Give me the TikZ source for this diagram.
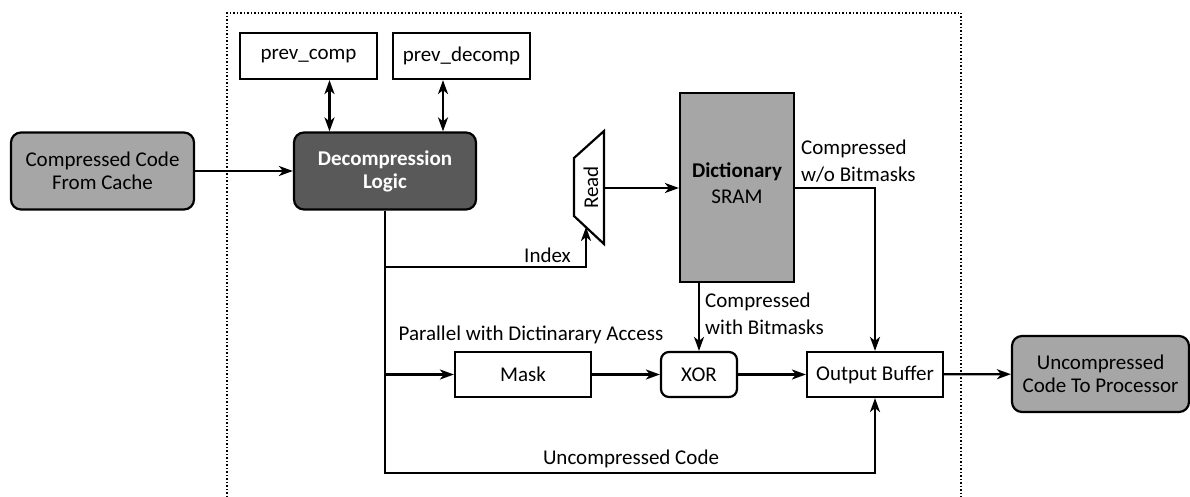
\documentclass[tikz,border=0pt]{standalone}
\usepackage{fontspec}
\setmainfont{Carlito}
\usetikzlibrary{arrows.meta,calc}
\definecolor{lgray}{HTML}{A6A6A6}
\definecolor{dgray}{HTML}{595959}
\begin{document}
\begin{tikzpicture}[x=1pt,y=-1pt,
  every node/.style={font=\fontsize{21}{23}\selectfont, inner sep=0pt},
  box/.style={draw, line width=2.2pt, align=center},
  gbox/.style={box, fill=lgray, rounded corners=10pt},
  lbl/.style={font=\fontsize{21}{27}\selectfont, align=left},
  tip/.tip={Stealth[length=14pt,width=10pt,inset=4pt]},
  arr/.style={line width=2.2pt, -tip},
  dbl/.style={line width=2.2pt, tip-tip},
  wire/.style={line width=2.2pt}
]
\useasboundingbox (0,0) rectangle (1190,497);
% frame
\draw[dotted, line width=1.5pt] (227,497) -- (227,13) -- (961,13) -- (961,497);

\node[gbox, minimum width=183pt, minimum height=77pt] (cc) at (102.5,171) {Compressed Code\\From Cache};
\node[box, fill=dgray, rounded corners=10pt, text=white, font=\fontsize{21}{23}\selectfont\bfseries, minimum width=182pt, minimum height=77pt] (dl) at (385,171) {Decompression\\Logic};
\node[box, minimum width=137pt, minimum height=46pt] (pc) at (308.5,56) {prev\_comp};
\node[box, minimum width=137pt, minimum height=46pt] (pd) at (461.5,56) {prev\_decomp};
\node[box, fill=lgray, minimum width=114pt, minimum height=189pt] (dict) at (737,187.5) {};
\node[align=center, font=\fontsize{21}{26}\selectfont] (dicttxt) at (737,183) {\textbf{Dictionary}\\SRAM};
\node[box, minimum width=136pt, minimum height=45pt] (mask) at (523,374.5) {Mask};
\node[box, rounded corners=8pt, minimum width=76pt, minimum height=45pt] (xor) at (699,374.5) {XOR};
\node[box, minimum width=136pt, minimum height=45pt] (ob) at (875,374.5) {Output Buffer};
\node[gbox, minimum width=177pt, minimum height=76pt] (uc) at (1100.5,374) {Uncompressed\\Code To Processor};

% read trapezoid
\coordinate (rtl) at (574,158);
\coordinate (rbl) at (574,216);
\coordinate (rtr) at (604,131);
\coordinate (rbr) at (604,244);
\draw[line width=2.2pt, fill=white] (rtl) -- (rtr) -- (rbr) -- (rbl) -- cycle;
\node[rotate=90] (read) at (591,187.5) {Read};
\coordinate (readout) at (604,188);
\coordinate (readin) at (586,227);

% connectors
\draw[arr] (cc) -- (dl);
\draw[dbl] ([xshift=21pt]pc.south) -- ([xshift=-55.5pt]dl.north);
\draw[dbl] ([xshift=-18.5pt]pd.south) -- ([xshift=58pt]dl.north);
\coordinate (bot) at (385,473);
\coordinate (idx) at (385,267);
\coordinate (msk) at (385,374.5);
\draw[arr] (dl.south) -- (bot) -| (ob.south);
\draw[arr] (idx) -| (readin);
\draw[arr] (msk) -- (mask.west);
\draw[arr] (mask) -- (xor);
\draw[arr] (xor) -- (ob);
\draw[arr] (ob) -- (uc);
\draw[arr] (readout) -- (readout -| dict.west);
\draw[arr] (dict.east |- readout) -| (ob.north);
\draw[arr] (dict.south -| xor.north) -- (xor.north);

% labels
\node[anchor=east] (lidx) at (571,255) {Index};
\node[lbl, anchor=west] (lwo) at (801,161.5) {Compressed\\w/o Bitmasks};
\node[lbl, anchor=west] (lwi) at (705,313.5) {Compressed\\with Bitmasks};
\node (lpar) at (531,335) {Parallel with Dictinarary Access};
\node (lunc) at (631,459) {Uncompressed Code};
\end{tikzpicture}
\end{document}
